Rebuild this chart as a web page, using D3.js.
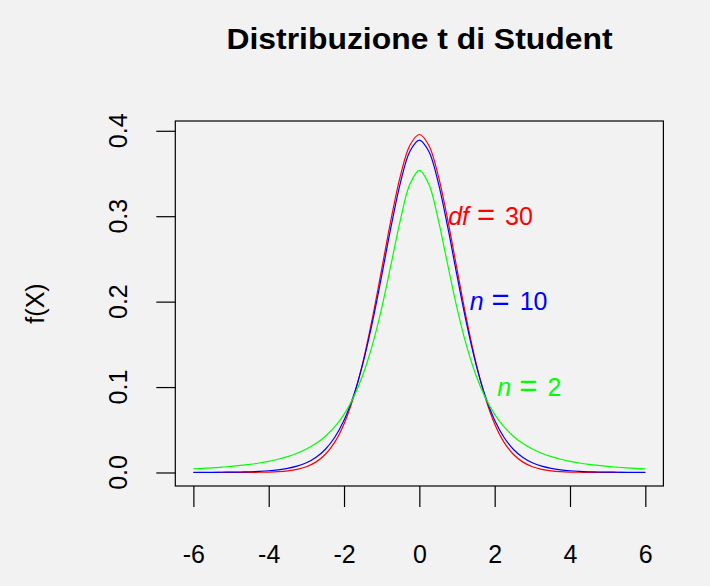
<!DOCTYPE html>
<html><head><meta charset="utf-8">
<script src="https://cdn.jsdelivr.net/npm/d3@7"></script>
<style>
html,body{margin:0;padding:0;background:#f2f2f2;}
svg{display:block;}
text{font-family:"Liberation Sans",Arial,sans-serif;fill:#000;}
</style></head><body>
<svg id="chart" width="710" height="586"></svg>
<script>
const title = "Distribuzione t di Student";
const yLabel = "f(X)";
const xTicks = [-6, -4, -2, 0, 2, 4, 6];
const xTickLabels = ["-6", "-4", "-2", "0", "2", "4", "6"];
const yTicks = [0.0, 0.1, 0.2, 0.3, 0.4];
const yTickLabels = ["0.0", "0.1", "0.2", "0.3", "0.4"];

const xs = [-6,-5.75,-5.5,-5.25,-5,-4.75,-4.5,-4.25,-4,-3.75,-3.5,-3.25,-3,-2.75,-2.5,-2.25,-2,-1.75,-1.5,-1.25,-1,-0.75,-0.5,-0.25,0,
  0.25,0.5,0.75,1,1.25,1.5,1.75,2,2.25,2.5,2.75,3,3.25,3.5,3.75,4,4.25,4.5,4.75,5,5.25,5.5,5.75,6];

const df30 = [0.0000019,0.0000039,0.0000080,0.0000162,0.0000328,0.0000664,0.000133,0.000266,0.000525,0.001022,0.001960,0.003688,0.006780,0.01213,0.02106,0.03529,0.05685,0.08770,0.12896,0.18011,0.23799,0.29665,0.34787,0.38307,0.39563,
  0.38307,0.34787,0.29665,0.23799,0.18011,0.12896,0.08770,0.05685,0.03529,0.02106,0.01213,0.006780,0.003688,0.001960,0.001022,0.000525,0.000266,0.000133,0.0000664,0.0000328,0.0000162,0.0000080,0.0000039,0.0000019];

const df10 = [0.0000881,0.000127,0.000184,0.000269,0.000396,0.000589,0.000883,0.001334,0.002031,0.003109,0.004783,0.007383,0.01140,0.01757,0.02693,0.04090,0.06115,0.08954,0.12745,0.17511,0.23036,0.28798,0.33970,0.37600,0.38911,
  0.37600,0.33970,0.28798,0.23036,0.17511,0.12745,0.08954,0.06115,0.04090,0.02693,0.01757,0.01140,0.007383,0.004783,0.003109,0.002031,0.001334,0.000883,0.000589,0.000396,0.000269,0.000184,0.000127,0.0000881];

const df2 = [0.004269,0.004817,0.005460,0.006221,0.007128,0.008215,0.009528,0.011128,0.013095,0.01553,0.01859,0.02246,0.02741,0.03382,0.04220,0.05328,0.06804,0.08779,0.11413,0.14872,0.19245,0.24378,0.29630,0.33760,0.35355,
  0.33760,0.29630,0.24378,0.19245,0.14872,0.11413,0.08779,0.06804,0.05328,0.04220,0.03382,0.02741,0.02246,0.01859,0.01553,0.013095,0.011128,0.009528,0.008215,0.007128,0.006221,0.005460,0.004817,0.004269];

const seriesNames = ["df30", "df10", "df2"];
const seriesColors = ["#ff0000", "#0000ff", "#00ff00"];
const labelVar = ["df", "n", "n"];
const labelNum = ["30", "10", "2"];
const labelX = [1.89, 2.37, 2.92];
const labelY = [0.3, 0.2, 0.1];

const svg = d3.select("#chart");
const x = d3.scaleLinear().domain([-6.48, 6.48]).range([175.3, 663.4]);
const y = d3.scaleLinear().domain([-0.015825, 0.411455]).range([486, 121]);

// title
const t = svg.append("text").attr("x", 419.5).attr("y", 49.3)
  .attr("text-anchor", "middle").attr("font-weight", "bold").attr("font-size", 29).text(title);
t.attr("textLength", 386).attr("lengthAdjust", "spacingAndGlyphs");

// lines
const data = [df30, df10, df2];
const line = d3.line().x((d, i) => x(xs[i])).y(d => y(d)).curve(d3.curveCatmullRom.alpha(0.5));
svg.append("g").selectAll("path").data(data).join("path")
  .attr("d", d => line(d)).attr("fill", "none")
  .attr("stroke", (d, i) => seriesColors[i]).attr("stroke-width", 1.2);

// box
svg.append("rect").attr("x", x(-6.48)).attr("y", y(0.411455))
  .attr("width", x(6.48) - x(-6.48)).attr("height", y(-0.015825) - y(0.411455))
  .attr("fill", "none").attr("stroke", "#000").attr("stroke-width", 1.2);

// x axis
const xa = svg.append("g").attr("transform", "translate(0,486)")
  .call(d3.axisBottom(x).tickValues(xTicks).tickSize(21).tickPadding(38)
    .tickFormat((d, i) => xTickLabels[i]));
xa.select(".domain").remove();
xa.selectAll("line").attr("stroke-width", 1.2);
xa.selectAll("text").attr("font-size", 25).attr("font-family", "Liberation Sans, Arial, sans-serif").attr("fill", "#000");

// y axis
const ya = svg.append("g").attr("transform", "translate(175.3,0)")
  .call(d3.axisLeft(y).tickValues(yTicks).tickSize(19).tickFormat(""));
ya.select(".domain").remove();
ya.selectAll("line").attr("stroke-width", 1.2);
svg.append("g").selectAll("text").data(yTicks).join("text")
  .attr("transform", d => `translate(126.7,${y(d)}) rotate(-90)`)
  .attr("text-anchor", "middle").attr("font-size", 25)
  .text((d, i) => yTickLabels[i]);

// y label
svg.append("text").attr("transform", `translate(43.5,${(y(0.411455) + y(-0.015825)) / 2}) rotate(-90)`)
  .attr("text-anchor", "middle").attr("font-size", 25).text(yLabel);

// curve labels
seriesNames.forEach((nm, i) => {
  const tx = svg.append("text").attr("x", x(labelX[i])).attr("y", y(labelY[i]) + 8.8)
    .attr("text-anchor", "middle").attr("font-size", 25).style("fill", seriesColors[i]);
  tx.append("tspan").attr("font-style", "italic").text(labelVar[i]);
  tx.append("tspan").attr("dx", 8).attr("font-size", 31).text("=");
  tx.append("tspan").attr("dx", 10).text(labelNum[i]);
});
</script>
</body></html>
